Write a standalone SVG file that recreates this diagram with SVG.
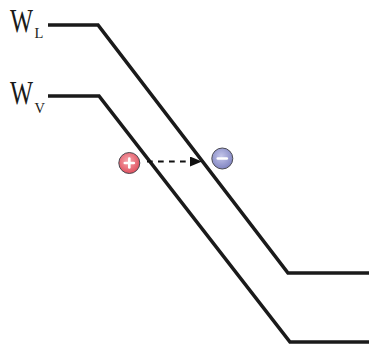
<svg xmlns="http://www.w3.org/2000/svg" width="369" height="347" viewBox="0 0 369 347">
  <defs>
    <radialGradient id="gradHole" cx="0.45" cy="0.4" r="0.6">
      <stop offset="0" stop-color="#f7a9b0"/>
      <stop offset="1" stop-color="#e0505e"/>
    </radialGradient>
    <radialGradient id="gradElectron" cx="0.45" cy="0.4" r="0.6">
      <stop offset="0" stop-color="#c4c6ea"/>
      <stop offset="1" stop-color="#8185c2"/>
    </radialGradient>
    <marker id="arrowHead" viewBox="0 0 12 10" refX="0" refY="5" markerWidth="12" markerHeight="10" markerUnits="userSpaceOnUse" orient="auto">
      <polygon points="0,0 12,5 0,10" fill="#111"/>
    </marker>
    <style>
      .band { fill: none; stroke: #1a1a1a; stroke-width: 3.6; stroke-linejoin: miter; }
      .label { font-family: "Liberation Serif", "Times New Roman", serif; fill: #1a1a1a; }
      .charge { stroke: #4a4a52; stroke-width: 1; }
      .sign { stroke: #fff; stroke-width: 2.6; stroke-linecap: round; }
    </style>
  </defs>

  <!-- band edges -->
  <g id="connectors">
    <polyline id="band-L" class="band" points="48,25 98,25 288,273 369,273"/>
    <polyline id="band-V" class="band" points="48,96 99,96 290,342 369,342"/>
    <line id="transition" x1="147" y1="161.5" x2="190" y2="161.5" stroke="#111" stroke-width="1.8" stroke-dasharray="5.7 5.3" marker-end="url(#arrowHead)"/>
  </g>

  <!-- level labels -->
  <g id="label-WL">
    <text class="label" x="0" y="32" font-size="33" transform="translate(10 0) scale(0.74 1)">W</text>
    <text class="label" x="34.5" y="38" font-size="14.5">L</text>
  </g>
  <g id="label-WV">
    <text class="label" x="0" y="104.3" font-size="33" transform="translate(10 0) scale(0.74 1)">W</text>
    <text class="label" x="34.5" y="113" font-size="14.5">V</text>
  </g>

  <!-- hole -->
  <g id="hole">
    <circle class="charge" cx="129.3" cy="163" r="10.5" fill="url(#gradHole)"/>
    <line class="sign" x1="124.8" y1="163" x2="133.8" y2="163"/>
    <line class="sign" x1="129.3" y1="158.5" x2="129.3" y2="167.5"/>
  </g>

  <!-- electron -->
  <g id="electron">
    <circle class="charge" cx="222.3" cy="158.5" r="10.5" fill="url(#gradElectron)"/>
    <line class="sign" x1="217.8" y1="158.5" x2="226.8" y2="158.5"/>
  </g>
</svg>
